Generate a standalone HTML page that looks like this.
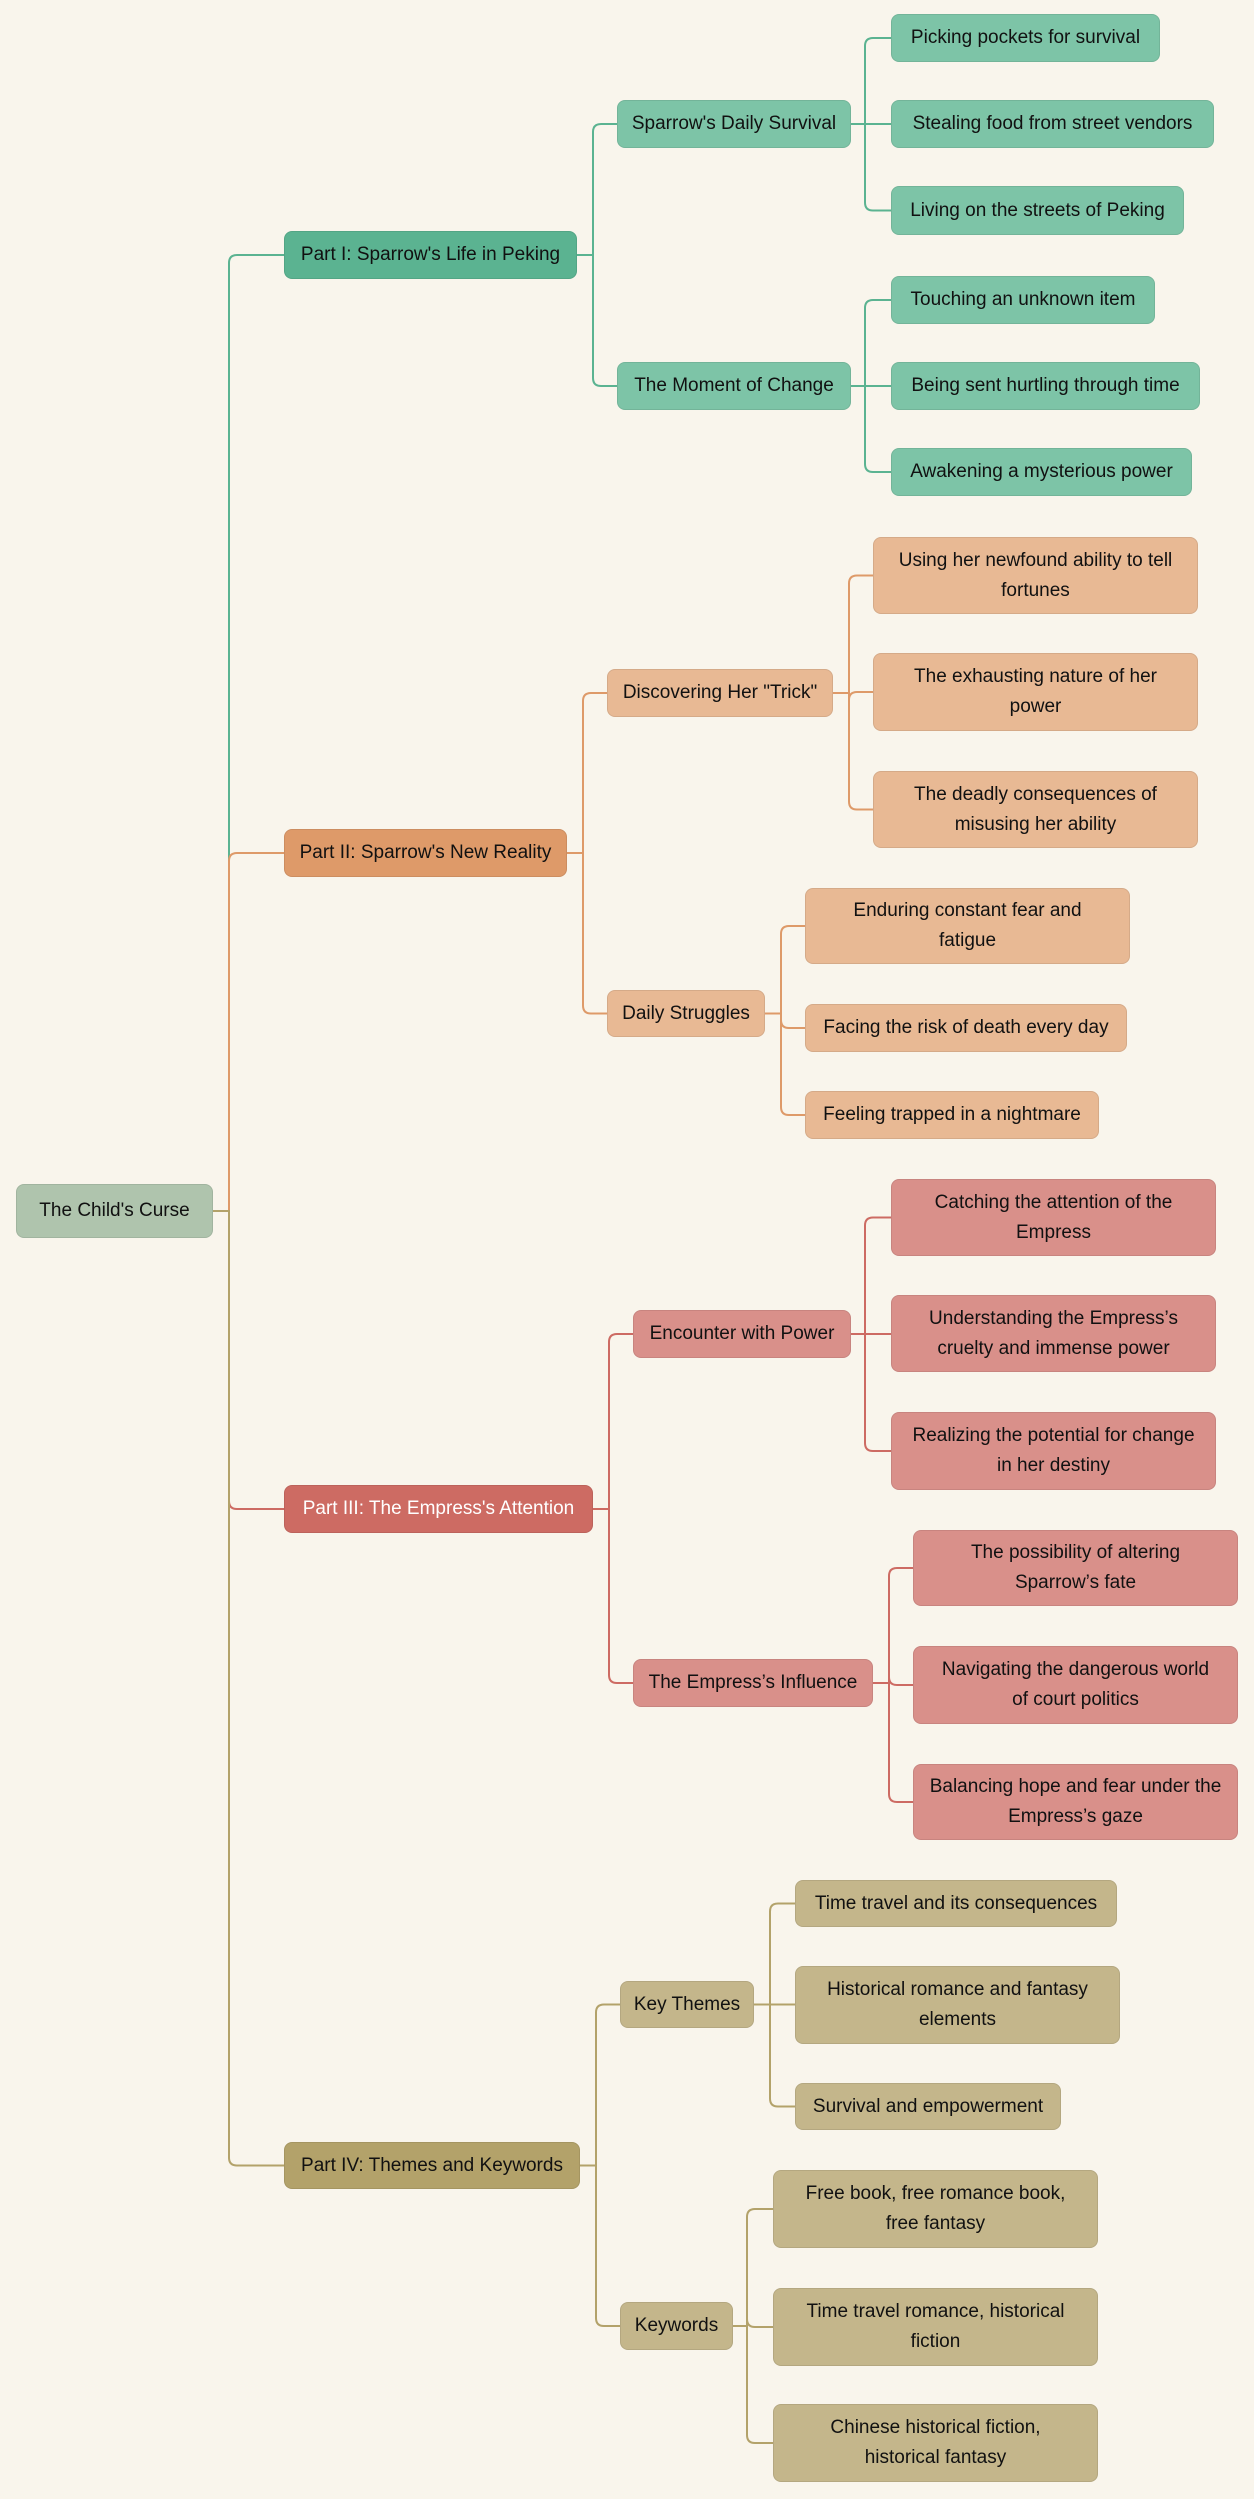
<!DOCTYPE html>
<html><head><meta charset="utf-8"><style>
html,body{margin:0;padding:0;background:#f9f5ec;}
#c{position:relative;width:1254px;height:2499px;overflow:hidden;font-family:"Liberation Sans",Arial,sans-serif;}
.b{position:absolute;box-sizing:border-box;border-radius:8px;display:flex;align-items:center;justify-content:center;text-align:center;font-size:19px;line-height:30px;color:#111;padding:0 8px;border:1px solid rgba(0,0,0,0.08);}
svg{position:absolute;left:0;top:0;}
</style></head><body><div id="c">
<svg id="s" width="1254" height="2499"></svg>
</div>
<script>
var C=document.getElementById('c'),S=document.getElementById('s');
var col={g:['#5bb391','#7dc4a7'],o:['#de9a69','#e8b994'],r:['#cd6b63','#d9908a'],y:['#b3a26a','#c4b68b']};
function box(x1,x2,y1,y2,t,bg,fg){var d=document.createElement('div');d.className='b';d.style.cssText+='left:'+x1+'px;top:'+y1+'px;width:'+(x2-x1)+'px;height:'+(y2-y1)+'px;background:'+bg+';'+(fg?'color:'+fg+';':'');d.innerHTML=t;C.appendChild(d);}
function el(x0,y0,vx,y1,x1,c){var r=8,p;if(Math.abs(y1-y0)<1){p='M'+x0+' '+y0+'H'+x1;}else{var s=y1>y0?1:-1;p='M'+x0+' '+y0+'H'+vx+'V'+(y1-s*r)+'Q'+vx+' '+y1+' '+(vx+r)+' '+y1+'H'+x1;}
var e=document.createElementNS('http://www.w3.org/2000/svg','path');e.setAttribute('d',p);e.setAttribute('stroke',c);e.setAttribute('stroke-width','2');e.setAttribute('fill','none');S.appendChild(e);}
box(16,213,1184,1238,"The Child's Curse",'#afc4ad');
var parts=[
 {k:'g',b:[284,577,231,279],t:"Part I: Sparrow's Life in Peking",vx:593,subs:[
  {b:[617,851,100,148],t:"Sparrow's Daily Survival",vx:865,lx:891,leaves:[[1160,14,62,"Picking pockets for survival"],[1214,100,148,"Stealing food from street vendors"],[1184,186,235,"Living on the streets of Peking"]]},
  {b:[617,851,362,410],t:"The Moment of Change",vx:865,lx:891,leaves:[[1155,276,324,"Touching an unknown item"],[1200,362,410,"Being sent hurtling through time"],[1192,448,496,"Awakening a mysterious power"]]}]},
 {k:'o',b:[284,567,829,877],t:"Part II: Sparrow's New Reality",vx:583,subs:[
  {b:[607,833,669,717],t:'Discovering Her "Trick"',vx:849,lx:873,leaves:[[1198,537,614,"Using her newfound ability to tell<br>fortunes"],[1198,653,731,"The exhausting nature of her<br>power"],[1198,771,848,"The deadly consequences of<br>misusing her ability"]]},
  {b:[607,765,990,1037],t:"Daily Struggles",vx:781,lx:805,leaves:[[1130,888,964,"Enduring constant fear and<br>fatigue"],[1127,1004,1052,"Facing the risk of death every day"],[1099,1091,1139,"Feeling trapped in a nightmare"]]}]},
 {k:'r',b:[284,593,1485,1533],t:"Part III: The Empress's Attention",fg:'#fff',vx:609,subs:[
  {b:[633,851,1310,1358],t:"Encounter with Power",vx:865,lx:891,leaves:[[1216,1179,1256,"Catching the attention of the<br>Empress"],[1216,1295,1372,"Understanding the Empress’s<br>cruelty and immense power"],[1216,1412,1490,"Realizing the potential for change<br>in her destiny"]]},
  {b:[633,873,1659,1707],t:"The Empress’s Influence",vx:889,lx:913,leaves:[[1238,1530,1606,"The possibility of altering<br>Sparrow’s fate"],[1238,1646,1724,"Navigating the dangerous world<br>of court politics"],[1238,1764,1840,"Balancing hope and fear under the<br>Empress’s gaze"]]}]},
 {k:'y',b:[284,580,2142,2189],t:"Part IV: Themes and Keywords",vx:596,subs:[
  {b:[620,754,1981,2028],t:"Key Themes",vx:770,lx:795,leaves:[[1117,1880,1927,"Time travel and its consequences"],[1120,1966,2044,"Historical romance and fantasy<br>elements"],[1061,2083,2130,"Survival and empowerment"]]},
  {b:[620,733,2302,2350],t:"Keywords",vx:747,lx:773,leaves:[[1098,2170,2248,"Free book, free romance book,<br>free fantasy"],[1098,2288,2366,"Time travel romance, historical<br>fiction"],[1098,2404,2482,"Chinese historical fiction,<br>historical fantasy"]]}]}
];
parts.forEach(function(P){var c=col[P.k];var py=(P.b[2]+P.b[3])/2;
 el(213,1211,229,py,284,c[0]);
 box(P.b[0],P.b[1],P.b[2],P.b[3],P.t,c[0],P.fg);
 P.subs.forEach(function(s){var sy=(s.b[2]+s.b[3])/2;el(P.b[1],py,P.vx,sy,s.b[0],c[0]);box(s.b[0],s.b[1],s.b[2],s.b[3],s.t,c[1]);
  s.leaves.forEach(function(l){var ly=(l[1]+l[2])/2;el(s.b[1],sy,s.vx,ly,s.lx,c[0]);box(s.lx,l[0],l[1],l[2],l[3],c[1]);});});
});
</script>
</body></html>
